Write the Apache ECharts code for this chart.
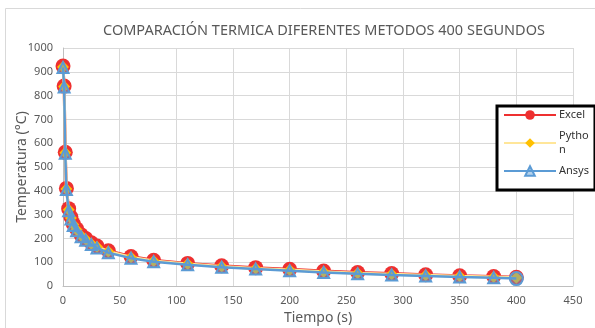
<!DOCTYPE html>
<html>
<head>
<meta charset="utf-8">
<script src="https://cdn.jsdelivr.net/npm/echarts@6/dist/echarts.min.js"></script>
<style>
  html, body { margin: 0; padding: 0; background: #fff; }
  #chart { width: 595px; height: 328px; }
</style>
</head>
<body>
<div id="chart"></div>
<script>
// tiempos (s)
const tiempos = [0, 1, 2, 3, 5, 7, 9, 12, 16, 20, 25, 30, 40, 60, 80, 110, 140, 170, 200, 230, 260, 290, 320, 350, 380, 400];
// temperaturas (°C) por metodo
const excel = [924, 840, 562, 410, 325, 290, 262, 240, 215, 200, 182, 168, 148, 124, 108, 95, 85, 77, 70, 63, 57, 52, 47, 43, 40, 37];
const python = [920, 838, 560, 408, 320, 286, 258, 236, 211, 196, 178, 165, 145, 121, 105, 92, 82, 74, 67, 60, 54, 49, 45, 41, 38, 35];
const ansys = [918, 836, 558, 405, 316, 282, 254, 232, 207, 192, 174, 160, 140, 117, 102, 89, 79, 71, 64, 57, 51, 46, 42, 38, 35, 31];

const nombres = ["Excel", "Python", "Ansys"];

const font = "Noto Sans";
const gris = "#595959";

function pares(vals) {
  return tiempos.map((t, i) => [t, vals[i]]);
}

// el ultimo punto de Ansys sale como circulo
const ansysData = pares(ansys).map((p, i) =>
  i === tiempos.length - 1 ? { value: p, symbol: "circle", symbolSize: 13 } : p
);

const chart = echarts.init(document.getElementById("chart"));
chart.setOption({
  animation: false,
  textStyle: { fontFamily: font },
  title: {
    text: "COMPARACIÓN TERMICA DIFERENTES METODOS 400 SEGUNDOS",
    left: 319,
    top: 18,
    textAlign: "center",
    textStyle: { color: gris, fontSize: 14.5, fontWeight: "normal", fontFamily: font },
  },
  graphic: [
    {
      type: "rect",
      shape: { x: 5.5, y: 8.5, width: 600, height: 330 },
      style: { fill: "none", stroke: "#d9d9d9", lineWidth: 1 },
      silent: true,
      z: -1,
    },
  ],
  grid: { left: 63, right: 22, top: 48, bottom: 42, outerBoundsMode: "none" },
  legend: {
    orient: "vertical",
    left: 497,
    top: 106,
    width: 90,
    padding: [2, 6, 12, 6],
    itemGap: 7,
    itemWidth: 52,
    itemHeight: 12,
    borderColor: "#000",
    borderWidth: 3,
    backgroundColor: "#fff",
    data: nombres,
    formatter: function (name) {
      return name === "Python" ? "Pytho\nn" : name;
    },
    textStyle: { color: "#333", fontSize: 11, lineHeight: 14, fontFamily: font, padding: [0, 0, 0, -2] },
  },
  xAxis: {
    type: "value",
    min: 0,
    max: 450,
    interval: 50,
    name: "Tiempo (s)",
    nameLocation: "middle",
    nameGap: 25,
    nameMoveOverlap: false,
    nameTextStyle: { color: gris, fontSize: 14, fontFamily: font },
    axisLine: { show: true, lineStyle: { color: "#bfbfbf" } },
    axisTick: { show: false },
    axisLabel: { color: gris, fontSize: 11, margin: 9 },
    splitLine: { show: true, lineStyle: { color: "#d9d9d9" } },
  },
  yAxis: {
    type: "value",
    min: 0,
    max: 1000,
    interval: 100,
    name: "Temperatura (°C)",
    nameLocation: "middle",
    nameGap: 34,
    nameMoveOverlap: false,
    nameTextStyle: { color: gris, fontSize: 14, fontFamily: font },
    axisLine: { show: true, lineStyle: { color: "#bfbfbf" } },
    axisTick: { show: false },
    axisLabel: { color: gris, fontSize: 11, margin: 10, formatter: (v) => String(v) },
    splitLine: { show: true, lineStyle: { color: "#d9d9d9" } },
  },
  series: [
    {
      name: "Excel",
      type: "line",
      data: pares(excel),
      symbol: "circle",
      symbolSize: 15,
      itemStyle: { color: "#ee3030" },
      lineStyle: { color: "#ee3030", width: 3 },
      z: 2,
    },
    {
      name: "Python",
      type: "line",
      data: pares(python),
      symbol: "diamond",
      symbolSize: 12,
      itemStyle: { color: "#ffc000" },
      lineStyle: { color: "#ffe699", width: 3 },
      z: 3,
    },
    {
      name: "Ansys",
      type: "line",
      data: ansysData,
      symbol: "triangle",
      symbolSize: 11,
      itemStyle: { color: "rgba(91,155,213,0.45)", borderColor: "#5b9bd5", borderWidth: 2 },
      lineStyle: { color: "#5b9bd5", width: 2.5 },
      z: 4,
    },
  ],
});
</script>
</body>
</html>
